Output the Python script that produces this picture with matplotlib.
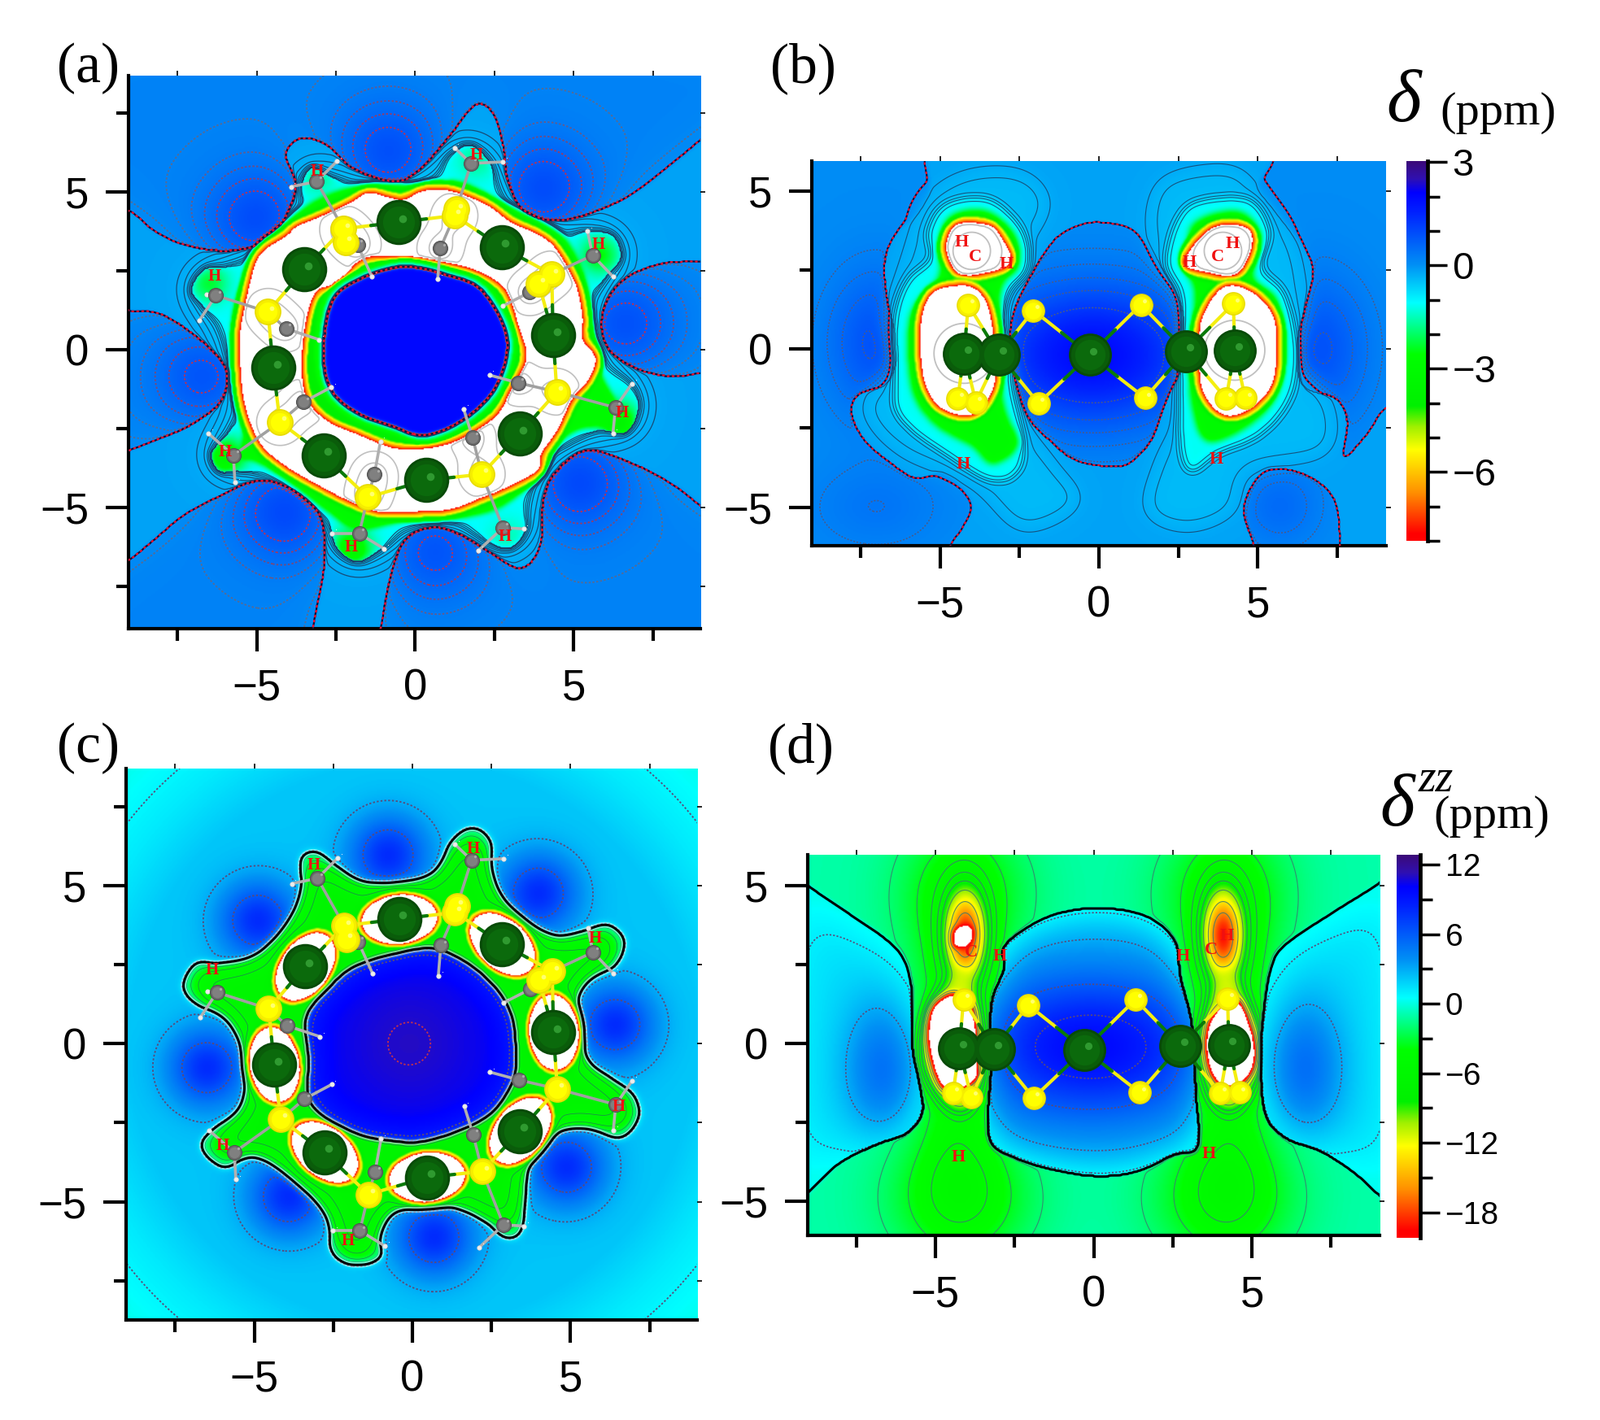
"""Chemical shielding maps: four contour panels with the molecule drawn on top."""
import matplotlib
matplotlib.use("Agg")
import matplotlib.pyplot as plt
import numpy as np
from matplotlib.colors import LinearSegmentedColormap
from matplotlib.path import Path

plt.rcParams["font.family"] = ["Liberation Sans", "DejaVu Sans"]
plt.rcParams["contour.negative_linestyle"] = "solid"
SERIF = "Liberation Serif"

W, H = 1967, 1746
N = 540
gx = np.linspace(-9.9, 9.9, N)
DX = gx[1] - gx[0]
X, Y = np.meshgrid(gx, gx)

# colour scale: (fraction, colour)
CMAP_STOPS = [(0.0, "#ff0000"), (0.018, "#ff0000"), (0.127, "#ff9000"), (0.24, "#ffff00"),
              (0.30, "#a0f000"), (0.355, "#00f000"), (0.491, "#00ff00"), (0.559, "#00ff80"),
              (0.627, "#00ffff"), (0.727, "#0090f5"), (0.868, "#0020ff"), (0.918, "#0000ff"),
              (0.955, "#3010b0"), (1.0, "#3c0a78")]
cmap = LinearSegmentedColormap.from_list("shift", CMAP_STOPS, N=512)
cmap.set_under("white")

# --- ring molecule (panels a, c), atoms in ring order ---------------------------------
ring_green = [(-0.53, 4.04), (2.73, 3.25), (4.35, 0.46), (3.29, -2.66),
              (0.35, -4.13), (-2.89, -3.34), (-4.48, -0.57), (-3.5, 2.54)]
ring_yellow = [(-2.27, 3.83), (1.24, 4.25), (4.31, 2.39), (4.47, -1.33),
               (2.1, -3.94), (-1.5, -4.67), (-4.27, -2.29), (-4.65, 1.2)]
ring_yellow_extra = [(3.9, 2.1), (-2.2, 3.4), (1.3, 4.45)]
ring_c_out = [(-3.11, 5.33), (1.76, 5.9), (5.6, 2.99), (6.32, -1.83),
              (2.77, -5.63), (-1.77, -5.82), (-5.74, -3.34), (-6.29, 1.72)]
ring_c_in = [(-1.82, 3.32), (0.79, 3.21), (3.61, 1.82), (3.26, -1.05),
             (1.81, -2.77), (-1.29, -3.95), (-3.52, -1.65), (-4.08, 0.67)]
ring_h_out = [[(-2.47, 5.97), (-3.92, 5.16)], [(1.24, 6.4), (2.77, 5.95)],
              [(5.44, 3.75), (6.24, 2.32)], [(6.84, -1.07), (6.24, -2.65)],
              [(3.42, -5.67), (2.0, -6.35)], [(-2.63, -5.82), (-0.98, -6.3)],
              [(-6.53, -2.65), (-5.69, -4.2)], [(-6.58, 1.75), (-6.82, 0.92)]]
ring_h_in = [(-1.37, 2.32), (0.71, 2.25), (2.77, 1.39), (2.34, -0.8),
             (1.53, -1.88), (-1.1, -2.91), (-2.66, -1.19), (-3.03, 0.32)]
ring_labels = [(-3.11, 5.64), (1.92, 6.16), (5.79, 3.32), (6.53, -2.0),
               (2.82, -5.92), (-2.03, -6.25), (-6.0, -3.24), (-6.34, 2.32)]
C_SHIFT = (0.11, -0.1)

# --- side-on molecule (panels b, d) ---------------------------------------------------
side_green = [(-4.24, -0.14), (-3.15, -0.17), (-0.29, -0.19), (2.74, -0.07), (4.27, -0.04)]
side_yellow = [(-4.11, 1.4), (-2.06, 1.22), (1.32, 1.4), (4.23, 1.43), (-4.44, -1.57),
               (-3.87, -1.69), (-1.9, -1.72), (1.45, -1.55), (4.0, -1.57), (4.6, -1.55)]
side_bonds = [(1, 1), (2, 1), (2, 2), (3, 2), (3, 7), (2, 7), (2, 6), (1, 6), (0, 0), (1, 0),
              (0, 4), (1, 5), (0, 5), (3, 3), (4, 3), (4, 8), (4, 9), (3, 8)]
b_labels = [("H", -4.32, 3.36), ("C", -3.89, 2.9), ("H", -2.92, 2.68), ("H", -4.27, -3.65),
            ("H", 4.19, 3.33), ("C", 3.74, 2.9), ("H", 2.85, 2.72), ("H", 3.68, -3.5)]
d_labels = [("H", -2.95, 2.76), ("H", 2.82, 2.76), ("H", -4.27, -3.61), ("H", 3.63, -3.49),
            ("C", 3.71, 2.97), ("H", 4.21, 3.41), ("C", -3.87, 2.9)]

# --- panel a contours -----------------------------------------------------------------
a_zero_top = [(-8.95, 4.33), (-8.27, 3.75), (-7.31, 3.32), (-5.85, 3.14), (-4.56, 3.54), (-3.92, 4.61),
              (-3.79, 5.33), (-4.08, 6.19), (-3.6, 6.69), (-2.79, 6.48), (-1.98, 5.76), (-0.69, 5.33),
              (0.11, 5.69), (1.08, 6.76), (1.89, 7.74), (2.45, 7.48), (2.77, 6.48), (2.94, 5.33),
              (3.5, 4.33), (4.63, 4.11), (5.92, 4.47), (7.05, 5.04), (8.34, 6.05), (9.02, 6.62),
              (9.7, 7.2), (9.8, 9.7), (-9.8, 9.7), (-9.8, 4.9)]
a_zero_right = [(9.8, 2.82), (9.02, 2.82), (7.85, 2.75), (6.73, 2.32), (6.08, 1.6), (5.89, 0.74),
                (6.16, -0.04), (7.05, -0.62), (8.18, -0.86), (9.02, -0.76), (9.8, -0.76)]
a_zero_br = [(9.02, -4.91), (8.18, -4.27), (6.89, -3.62), (5.44, -3.19), (4.47, -3.84), (4.06, -4.7),
             (3.98, -5.99), (3.66, -6.7), (3.18, -6.89), (2.37, -6.42), (1.4, -5.85), (0.6, -5.63),
             (-0.21, -5.92), (-0.69, -6.85), (-1.1, -8.78), (-1.2, -9.8), (9.8, -9.8), (9.8, -5.4)]
a_zero_bl = [(-3.19, -8.78), (-2.87, -6.85), (-2.95, -5.42), (-3.44, -4.7), (-4.4, -4.2), (-5.21, -4.2),
             (-6.18, -4.63), (-7.31, -5.2), (-8.27, -5.99), (-8.95, -6.56), (-9.8, -7.2), (-9.8, -9.8),
             (-3.3, -9.8)]
a_zero_left = [(-9.8, 1.25), (-8.95, 1.25), (-8.11, 1.17), (-7.15, 0.6), (-6.26, -0.19), (-5.94, -0.83),
               (-6.18, -1.69), (-7.15, -2.41), (-8.11, -2.84), (-8.95, -3.19), (-9.8, -3.4)]
a_cores = [(-4.97, 4.11, 0.8), (-0.85, 6.19, 0.75), (3.98, 5.04, 0.8), (6.48, 0.82, 0.75),
           (5.11, -4.13, 0.85), (0.6, -6.27, 0.7), (-4.08, -5.06, 0.85), (-6.58, -0.83, 0.7)]
a_patches = [(6.4, -2.3, -2.5), (-6.0, -3.4, -2.2), (-2.0, -6.3, -2.2), (-6.5, 2.1, -1.2),
             (5.8, 3.0, -1.5), (1.9, 6.0, -0.6), (-3.1, 5.5, -0.6), (2.9, -5.9, -0.4)]
a_halo = [(-7.06, 1.89), (-6.66, 2.54), (-6.02, 2.61), (-5.21, 2.89), (-4.4, 3.61), (-3.6, 4.33),
          (-3.6, 5.19), (-3.27, 5.76), (-2.63, 5.47), (-1.82, 5.19), (-0.53, 5.04), (0.6, 5.4),
          (1.08, 6.12), (1.73, 6.48), (2.37, 5.9), (2.61, 5.04), (3.18, 4.18), (4.47, 3.61),
          (5.44, 3.75), (6.24, 3.61), (6.48, 2.89), (5.92, 2.18), (5.44, 1.32), (5.76, 0.17),
          (6.08, -0.54), (6.81, -1.12), (7.05, -1.83), (6.65, -2.62), (5.76, -2.55), (4.79, -2.98),
          (3.98, -3.55), (3.5, -4.84), (3.5, -5.7), (3.02, -6.27), (2.37, -6.13), (1.4, -5.49),
          (0.6, -5.42), (-0.37, -5.7), (-1.02, -6.27), (-1.82, -6.7), (-2.47, -6.27), (-2.79, -5.42),
          (-3.6, -4.56), (-4.73, -3.98), (-5.53, -3.84), (-6.18, -3.84), (-6.42, -3.27), (-5.85, -2.55),
          (-5.53, -1.69), (-5.85, -0.4), (-6.18, 0.74), (-6.66, 1.32)]
a_green = [(-5.69, 1.46), (-4.89, 3.04), (-3.76, 4.33), (-2.47, 5.04), (-1.02, 5.26), (0.27, 5.19),
           (1.4, 5.33), (2.85, 4.61), (4.47, 3.75), (5.11, 2.89), (5.44, 1.89), (5.6, 0.6),
           (5.76, -0.54), (6.4, -1.83), (6.24, -2.34), (5.11, -2.55), (4.15, -3.27), (3.74, -4.13),
           (2.69, -4.99), (1.4, -5.34), (-0.21, -5.42), (-1.82, -5.7), (-2.79, -5.13), (-4.08, -4.13),
           (-5.05, -3.55), (-5.53, -3.41), (-5.45, -2.69), (-5.53, -1.55), (-5.77, -0.11)]
a_white_out = [(-3.76, 3.9), (-3.11, 4.18), (-2.15, 4.61), (-1.5, 4.97), (-0.85, 4.83), (-0.37, 4.76),
               (0.27, 5.04), (1.08, 5.04), (2.21, 4.61), (3.02, 4.04), (3.82, 3.68), (4.39, 3.25),
               (4.87, 2.46), (5.11, 1.89), (5.27, 1.03), (5.27, 0.32), (5.68, -0.26), (5.44, -0.97),
               (4.95, -1.55), (4.47, -2.55), (3.98, -3.27), (3.82, -3.84), (2.77, -4.41), (2.05, -4.7),
               (1.08, -5.06), (-0.21, -5.13), (-1.18, -5.13), (-2.15, -4.77), (-3.11, -4.27), (-4.08, -3.7),
               (-4.89, -2.98), (-5.37, -1.83), (-5.53, -0.54), (-5.53, 0.6), (-5.21, 2.18), (-4.89, 3.04),
               (-4.08, 3.61)]
a_white_in = [(-3.11, 1.89), (-2.47, 2.11), (-1.66, 2.89), (-0.37, 2.97), (1.08, 2.75), (2.05, 2.46),
              (2.85, 1.89), (3.26, 0.74), (3.5, -0.26), (3.02, -1.26), (2.53, -2.12), (1.4, -2.84),
              (0.44, -3.12), (-0.69, -3.12), (-1.82, -2.69), (-2.79, -2.26), (-3.44, -1.55), (-3.6, -0.4),
              (-3.44, 1.03)]
a_disc = [(-2.63, 1.46), (-1.82, 2.18), (-0.37, 2.61), (1.08, 2.32), (2.05, 1.89), (2.77, 0.74),
          (2.85, -0.26), (2.37, -1.4), (1.4, -2.26), (0.27, -2.69), (-0.69, -2.41), (-1.82, -1.98),
          (-2.63, -1.26), (-2.87, -0.11)]

# --- panel b contours -----------------------------------------------------------------
b_zero_left = [(-5.45, 6.7), (-5.45, 5.94), (-5.32, 5.15), (-5.61, 4.43), (-6.42, 3.58), (-6.74, 2.72),
               (-6.66, 1.57), (-6.34, 0.14), (-6.42, -0.57), (-6.74, -1.14), (-7.55, -1.43), (-7.79, -2.0),
               (-7.39, -2.86), (-6.58, -3.58), (-5.77, -4.08), (-4.97, -3.93), (-4.32, -4.36), (-4.0, -5.01),
               (-4.32, -5.72), (-4.65, -6.22), (-4.7, -7.0), (-9.8, -7.0), (-9.8, 6.7)]
b_zero_right = [(5.44, 6.7), (5.44, 5.94), (5.03, 5.15), (5.52, 4.43), (6.4, 3.29), (6.73, 2.43),
                (6.48, 1.29), (6.24, 0.14), (6.4, -1.14), (7.45, -1.57), (7.81, -2.29), (7.69, -3.43),
                (8.42, -2.72), (9.03, -1.86), (9.8, -1.86), (9.8, 6.7)]
b_zero_low = [(4.87, -6.22), (4.55, -5.01), (5.11, -3.93), (5.84, -3.79), (6.81, -4.15), (7.45, -4.86),
              (7.61, -6.22), (7.61, -7.0), (4.87, -7.0)]
b_zero_mid = [(0.19, 4.01), (1.16, 3.72), (1.97, 2.58), (2.61, 1.29), (2.69, 0.14), (2.61, -0.57),
              (2.13, -1.57), (1.65, -2.86), (1.0, -3.58), (0.35, -3.72), (-0.77, -3.5), (-1.58, -2.86),
              (-2.23, -2.15), (-2.63, -1.0), (-2.79, -0.14), (-2.71, 1.0), (-2.23, 2.15), (-1.42, 3.43),
              (-0.61, 3.93)]
b_white = [[(-4.81, 3.22), (-4.48, 3.93), (-3.52, 3.93), (-3.11, 3.58), (-2.79, 2.72), (-3.84, 2.36), (-4.48, 2.43)],
           [(-5.61, 0.72), (-5.29, 1.72), (-4.48, 2.0), (-3.84, 1.86), (-3.44, 1.14), (-3.27, -0.43),
            (-3.35, -1.29), (-3.84, -2.0), (-4.48, -2.07), (-5.13, -1.72), (-5.53, -0.86)],
           [(2.69, 2.72), (3.26, 3.58), (3.9, 3.93), (4.71, 3.79), (4.79, 3.15), (4.31, 2.36), (3.42, 2.43)],
           [(3.26, 1.0), (3.9, 1.93), (4.71, 1.86), (5.44, 1.14), (5.6, 0.14), (5.44, -1.14),
            (4.71, -1.93), (3.9, -2.07), (3.26, -1.29), (3.18, 0.0)]]
b_green = [[(-3.11, 1.72), (-3.03, -1.57), (-2.55, -3.0), (-3.35, -3.65), (-4.0, -3.08), (-5.13, -2.43),
            (-5.85, -1.43), (-6.02, 0.14), (-5.85, 1.29), (-5.05, 2.29), (-5.05, 3.29), (-4.65, 4.22),
            (-3.52, 4.36), (-2.63, 3.58), (-2.55, 2.58)],
           [(2.77, 3.0), (3.02, 4.01), (4.39, 4.36), (5.11, 3.58), (4.87, 2.29), (5.6, 1.57), (5.84, 0.14),
            (5.6, -1.43), (4.71, -2.43), (3.42, -2.93), (2.94, -1.86), (2.85, -0.29), (3.02, 1.72), (2.69, 2.58)]]
b_cyan = [[(-6.42, 1.0), (-6.02, 2.15), (-5.29, 2.86), (-5.37, 3.72), (-4.81, 4.58), (-3.44, 4.72),
           (-2.39, 3.72), (-2.23, 2.58), (-2.79, 1.86), (-3.03, 1.0), (-2.79, -0.43), (-2.71, -1.29),
           (-2.39, -2.86), (-2.55, -3.86), (-3.35, -4.15), (-4.65, -3.43), (-6.26, -2.15), (-6.42, -0.72)],
          [(2.13, 2.72), (2.45, 4.01), (3.1, 4.65), (4.71, 4.72), (5.35, 3.72), (5.11, 2.58), (5.84, 1.72),
           (6.24, 0.0), (6.0, -1.57), (5.03, -2.72), (3.74, -3.29), (2.94, -3.86), (2.61, -3.29),
           (2.53, -1.86), (2.53, -0.43), (2.61, 1.0), (2.53, 1.86)]]
b_pale = [[(-6.66, 1.0), (-6.1, 3.0), (-5.45, 4.72), (-4.16, 5.58), (-2.39, 5.58), (-1.58, 4.58),
           (-2.39, 3.0), (-3.03, 1.29), (-2.55, -1.86), (-1.42, -3.58), (-0.61, -4.86), (-2.39, -5.72),
           (-4.0, -4.29), (-6.26, -3.29), (-7.39, -1.86), (-6.5, -0.57)],
          [(1.56, 4.29), (2.13, 5.44), (4.23, 5.72), (5.19, 4.72), (6.16, 3.29), (6.48, 1.29), (6.24, -0.43),
           (7.29, -1.72), (7.13, -3.29), (4.71, -3.86), (4.23, -5.15), (2.77, -5.72), (1.48, -5.15),
           (1.81, -3.58), (2.53, -1.86), (2.61, 1.29), (1.81, 2.72)]]
b_cores = [(-0.2, -0.2, 1.9, 2.3, 1.5), (-7.0, 0.2, 0.8, 1.1, 1.6), (6.9, 0.0, 0.8, 1.1, 1.6),
           (5.7, -5.0, 0.45, 0.9, 0.9), (-7.0, -5.0, 0.3, 1.5, 1.0)]

# --- panel c contours -----------------------------------------------------------------
c_profile_r = [0, 7, 9, 10.5, 11.4, 13]
c_profile_v = [2.3, 2.3, 2.2, 1.2, 0.75, 0.0]
c_cores = [(-0.77, 5.97), (3.98, 4.76), (6.4, 0.6), (4.87, -3.91),
           (0.68, -6.13), (-3.92, -4.84), (-6.5, -0.76), (-4.89, 3.9)]
c_outer = [(-7.23, 1.82), (-6.82, 2.54), (-6.1, 2.54), (-4.97, 2.82), (-4.0, 3.83), (-3.52, 4.83),
           (-3.52, 5.83), (-3.03, 6.05), (-2.39, 5.62), (-1.58, 5.14), (-0.45, 5.14), (0.68, 5.4),
           (1.24, 6.4), (1.89, 6.81), (2.45, 6.4), (2.53, 5.4), (2.94, 4.54), (3.74, 3.83),
           (4.55, 3.4), (5.35, 3.54), (6.16, 3.75), (6.68, 3.25), (6.4, 2.46), (5.52, 1.96),
           (5.19, 1.1), (5.52, -0.47), (6.24, -1.05), (6.97, -1.62), (7.13, -2.34), (6.56, -2.98),
           (5.52, -2.69), (4.55, -2.84), (3.74, -3.77), (3.58, -4.91), (3.42, -5.92), (2.94, -6.13),
           (2.29, -5.63), (1.32, -5.2), (0.35, -5.2), (-0.61, -5.34), (-1.02, -6.06), (-1.02, -6.78),
           (-1.9, -6.99), (-2.55, -6.56), (-2.71, -5.49), (-3.68, -4.48), (-4.97, -3.55), (-5.94, -3.91),
           (-6.66, -3.27), (-6.26, -2.69), (-5.45, -2.05), (-5.29, -1.05), (-5.45, -0.04), (-5.94, 0.82),
           (-6.82, 1.25)]
c_inner = [(-3.35, 0.82), (-2.71, 1.68), (-1.9, 2.39), (-0.61, 2.82), (0.84, 2.97), (2.29, 2.11),
           (3.1, 0.96), (3.26, -0.47), (3.1, -1.33), (2.29, -2.34), (0.52, -3.05), (-0.77, -3.05),
           (-1.9, -2.77), (-3.19, -1.91), (-3.27, -0.47)]

# --- panel d contours -----------------------------------------------------------------
d_zero_left = [(-9.8, 5.7), (-9.03, 5.06), (-7.66, 4.12), (-6.53, 3.33), (-5.97, 2.69), (-5.73, 1.68),
               (-5.73, -0.04), (-5.48, -1.34), (-5.4, -2.2), (-5.89, -2.84), (-6.85, -3.2), (-7.98, -3.78),
               (-9.03, -4.78), (-9.8, -5.5)]
d_zero_right = [(9.8, 5.8), (9.02, 5.13), (7.66, 4.27), (6.05, 3.19), (5.56, 2.4), (5.32, 0.82),
                (5.24, -0.33), (5.4, -2.2), (6.05, -2.99), (7.18, -3.42), (8.15, -4.07), (9.02, -4.86),
                (9.8, -5.5)]
d_zero_mid = [(0.24, 4.31), (-1.21, 4.12), (-2.34, 3.55), (-2.9, 2.97), (-2.82, 2.4), (-3.23, 1.25),
              (-3.23, -0.62), (-3.34, -2.34), (-3.23, -3.2), (-2.5, -3.64), (-1.37, -3.99), (0.08, -4.21),
              (1.37, -4.07), (2.5, -3.56), (3.31, -3.28), (3.23, -1.62), (3.11, 0.53), (2.74, 2.11),
              (2.58, 3.26), (1.69, 4.05)]
d_white = [[(-5.27, -0.04), (-5.16, 1.11), (-4.44, 1.61), (-3.79, 1.11), (-3.63, -0.62), (-3.71, -1.19),
            (-4.44, -1.55), (-4.92, -1.26)],
           [(3.55, 0.53), (4.03, 1.25), (4.6, 1.39), (5.08, 0.24), (5.08, -0.76), (4.6, -1.34),
            (3.95, -1.34), (3.55, -0.62)],
           [(-4.35, 3.69), (-3.87, 3.69), (-3.9, 3.2), (-4.35, 3.05), (-4.5, 3.3)]]
d_yellow = [[(-5.48, -0.04), (-5.16, 1.25), (-4.6, 1.97), (-4.11, 2.4), (-3.63, 1.25), (-3.39, -0.33),
             (-3.63, -1.62), (-4.11, -2.2), (-4.76, -1.91), (-5.32, -1.05)],
            [(3.31, 0.24), (3.79, 1.82), (4.19, 2.4), (4.92, 1.25), (5.32, -0.04), (5.08, -1.34),
             (4.44, -2.13), (3.79, -1.91), (3.39, -0.91)]]
# (x, y, amplitude, width x, width y)
d_columns = [(-4.3, 0.0, -3.6, 1.0, 3.4), (4.3, 0.0, -3.6, 1.0, 3.4), (-4.2, -4.9, -3.6, 1.6, 1.4),
             (4.1, -4.9, -3.6, 1.6, 1.4), (-4.1, 4.8, -3.0, 1.5, 1.6), (4.1, 4.8, -3.0, 1.5, 1.6),
             (-4.05, 3.4, -14.0, 0.45, 1.0), (4.08, 3.4, -14.0, 0.45, 1.0)]
d_side_cores = [(-6.6, -0.8, 3.8, 0.9, 1.6), (6.6, -0.8, 3.8, 0.9, 1.6)]


def smooth_closed(pts, k=8):
    p = np.asarray(pts, float)
    n = len(p)
    t = np.linspace(0, 1, k, endpoint=False)[:, None]
    out = []
    for i in range(n):
        p0, p1, p2, p3 = p[i - 1], p[i], p[(i + 1) % n], p[(i + 2) % n]
        out.append(0.5 * (2 * p1 + (p2 - p0) * t + (2 * p0 - 5 * p1 + 4 * p2 - p3) * t ** 2
                          + (3 * p1 - p0 - 3 * p2 + p3) * t ** 3))
    return np.vstack(out)


def raster(pts, scale=1.0, smooth=True):
    p = smooth_closed(pts) if smooth else np.asarray(pts, float)
    p = p * scale
    x0, y0 = p.min(axis=0)
    x1, y1 = p.max(axis=0)
    sel = (X >= x0) & (X <= x1) & (Y >= y0) & (Y <= y1)
    mask = np.zeros_like(X)
    mask[sel] = Path(p).contains_points(np.column_stack([X[sel], Y[sel]]))
    return mask


def blur(a, s):
    pad = int(4 * s / DX) + 2
    b = np.pad(a, pad, mode="edge")
    fy = np.fft.fftfreq(b.shape[0])[:, None]
    fx = np.fft.rfftfreq(b.shape[1])[None, :]
    sp = s / DX
    out = np.fft.irfft2(np.fft.rfft2(b) * np.exp(-2 * (np.pi * sp) ** 2 * (fx ** 2 + fy ** 2)), s=b.shape)
    return out[pad:-pad, pad:-pad]


def dilate(mask, d):
    return (blur(mask, d) > 0.16).astype(float)


def erode(mask, d):
    return 1.0 - dilate(1.0 - mask, d)


def paint(F, mask, level, s, inside=False):
    m = blur(mask, s)
    if inside:
        m = np.clip(2 * m - 1, 0, 1)
    return F * (1 - m) + level * m


def bump(x0, y0, amp, sx, sy=None):
    sy = sx if sy is None else sy
    return amp * np.exp(-0.5 * ((X - x0) / sx) ** 2 - 0.5 * ((Y - y0) / sy) ** 2)


def deepen(F, atoms, limit, amp=14.0, s=0.42):
    deep = sum(bump(x, y, amp, s) for x, y in atoms)
    return F - deep * np.clip((limit - F) / 0.5, 0, 1)


def field_a():
    lobes = np.clip(sum(raster(p) for p in [a_zero_top, a_zero_right, a_zero_br, a_zero_bl, a_zero_left]), 0, 1)
    F = paint(np.full_like(X, -0.2), lobes, 0.05, 0.05)
    F += lobes * (sum(bump(x, y, a, 1.1) for x, y, a in a_cores) + 0.12 * np.clip(2 * blur(lobes, 0.7) - 1, 0, 1))
    halo = raster(a_halo)
    F += (1 - lobes) * -0.65 * blur(halo, 0.55)
    F = paint(F, halo, -1.1, 0.09)
    F += halo * sum(bump(x, y, a, 0.42) for x, y, a in a_patches)
    F = paint(F, raster(a_green), -3.0, 0.08)
    white = raster(a_white_out)
    F = paint(F, dilate(white, 0.3), -4.1, 0.05)
    F = paint(F, dilate(white, 0.16), -6.0, 0.04)
    F = paint(F, white, -10.0, 0.07)
    hole = raster(a_white_in)
    F = paint(F, hole, -6.0, 0.07)
    F = paint(F, erode(hole, 0.16), -4.0, 0.04)
    F = paint(F, raster(a_disc, 1.11), -2.6, 0.05)
    F = paint(F, raster(a_disc, 1.055), -1.1, 0.05)
    F = paint(F, raster(a_disc), 1.95, 0.05)
    return deepen(F, ring_yellow + ring_c_in, -8.8)


def field_b():
    F = np.full_like(X, -0.2)
    lobes = np.clip(sum(raster(p) for p in [b_zero_left, b_zero_right, b_zero_low, b_zero_mid]), 0, 1)
    F = paint(F, lobes, 0.05, 0.05)
    F += lobes * sum(bump(x, y, a, sx, sy) for x, y, a, sx, sy in b_cores)
    for p in b_pale:
        F = paint(F, raster(p), -0.42, 0.3)
    for p in b_cyan:
        F = paint(F, raster(p), -1.15, 0.14)
    for p in b_green:
        F = paint(F, raster(p), -3.0, 0.1)
    for p in b_white:
        w = raster(p)
        F = paint(F, dilate(w, 0.3), -4.3, 0.05)
        F = paint(F, dilate(w, 0.16), -6.0, 0.04)
        F = paint(F, w, -10.0, 0.07)
    return deepen(F, [side_green[0], side_green[4], (-4.0, 3.1), (3.9, 3.1)], -8.8, 12.0, 0.5)


def crescent(x, y, scale):
    # white lens around a green atom, long side along the ring
    th = np.arctan2(y, x)
    t = np.linspace(0, 2 * np.pi, 60, endpoint=False)
    rad, tan = 0.78 * scale * np.cos(t), 1.2 * scale * np.sin(t)
    pts = np.column_stack([x + rad * np.cos(th) - tan * np.sin(th), y + rad * np.sin(th) + tan * np.cos(th)])
    return raster(pts, smooth=False)


def field_c():
    F = np.interp(np.hypot(X, Y), c_profile_r, c_profile_v)
    F = F + sum(bump(x, y, 5.7, 0.85) for x, y in c_cores)
    outer = raster(c_outer)
    F = paint(F, outer, -3.0, 0.12)
    F = paint(F, outer, -7.0, 0.45, inside=True)
    for (x, y) in ring_green:
        x, y = x + C_SHIFT[0], y + C_SHIFT[1]
        for scale, level, s in [(1.22, -8.0, 0.1), (1.1, -15.0, 0.05), (1.0, -24.0, 0.04)]:
            F = paint(F, crescent(x, y, scale), level, s)
    inner = raster(c_inner)
    F = paint(F, inner, 8.6, 0.08)
    F = paint(F, inner, 10.2, 0.5, inside=True)
    return F + inner * bump(-0.1, 0.0, 0.8, 1.3)


def field_d():
    F = np.full_like(X, -1.0)
    F += sum(bump(x, y, a, sx, sy) for x, y, a, sx, sy in d_columns)
    for p in d_yellow:
        F = paint(F, raster(p), -11.5, 0.2)
    for p in d_white:
        F = paint(F, raster(p), -22.0, 0.09)
    for p in [d_zero_left, d_zero_right]:
        m = raster(p)
        F = paint(F, m, 0.3, 0.05)
        F = paint(F, m, 1.6, 1.0, inside=True)
        F += m * sum(bump(x, y, a, sx, sy) for x, y, a, sx, sy in d_side_cores)
    m = raster(d_zero_mid)
    F = paint(F, m, 0.4, 0.05)
    F = paint(F, m, 2.2, 0.6, inside=True)
    return F + m * bump(-0.1, -0.1, 7.5, 3.0, 1.7)


def px_axes(fig, left, top, right, bottom):
    return fig.add_axes([left / W, 1 - bottom / H, (right - left) / W, (bottom - top) / H])


def style_axes(ax, xlim, ylim):
    ax.set_xlim(xlim)
    ax.set_ylim(ylim)
    ax.set_xticks([-5, 0, 5], ["\u22125", "0", "5"])
    ax.set_yticks([-5, 0, 5], ["\u22125", "0", "5"])
    ax.set_xticks([-7.5, -2.5, 2.5, 7.5], minor=True)
    ax.set_yticks([t for t in [-7.5, -2.5, 2.5, 7.5] if ylim[0] < t < ylim[1]], minor=True)
    ax.tick_params(which="major", length=20, width=3, labelsize=38, pad=15, top=True, right=True)
    ax.tick_params(which="minor", length=11, width=3, top=True, right=True)
    for axis in (ax.xaxis, ax.yaxis):
        for tick in axis.get_major_ticks() + axis.get_minor_ticks():
            tick.tick2line.set_color("#d0d0d0")
            tick.tick2line.set_markersize(4)
            tick.tick2line.set_markeredgewidth(1.2)
    ax.spines["top"].set_visible(False)
    ax.spines["right"].set_visible(False)
    ax.spines["left"].set_linewidth(3)
    ax.spines["bottom"].set_linewidth(3)


def sphere(ax, pts, size, colors, z):
    xy = np.asarray(pts)
    for frac, col in zip([1.0, 0.8, 0.5], colors):
        ax.scatter(xy[:, 0], xy[:, 1], s=size * frac, color=col, linewidths=0, zorder=z, clip_on=False)
    ax.scatter(xy[:, 0] + 0.12, xy[:, 1] + 0.12, s=size * 0.03, color=colors[3], linewidths=0, zorder=z)


GREEN_SHADES = ["#084a08", "#0a5c0a", "#0b6a0c", "#2f9a30"]
YELLOW_SHADES = ["#e8dc00", "#f6ee00", "#ffff00", "#ffff70"]
GRAY_SHADES = ["#505050", "#6a6a6a", "#808080", "#aaaaaa"]


def bond(ax, p, q, color, lw=2.6, z=5):
    ax.plot([p[0], q[0]], [p[1], q[1]], color=color, lw=lw, zorder=z, solid_capstyle="round")


def half_bond(ax, g, y, lw=3.0):
    mid = ((g[0] + y[0]) / 2, (g[1] + y[1]) / 2)
    bond(ax, y, mid, "#f4ee10", lw)
    bond(ax, g, mid, "#0a7a0a", lw)


def draw_ring(ax, shift=(0.0, 0.0), labels=ring_labels):
    sh = np.array(shift)
    green = np.array(ring_green) + sh
    yellow = np.array(ring_yellow) + sh
    extra = np.array(ring_yellow_extra) + sh
    c_out = np.array(ring_c_out) + sh
    c_in = np.array(ring_c_in) + sh
    h_out = np.array(ring_h_out) + sh
    h_in = np.array(ring_h_in) + sh
    n = len(green)
    for i in range(n):
        half_bond(ax, green[i], yellow[i])
        half_bond(ax, green[i], yellow[(i + 1) % n])
        bond(ax, yellow[i], c_out[i], "#a0a0a0")
        bond(ax, yellow[i], c_in[i], "#a0a0a0")
        bond(ax, c_in[i], h_in[i], "#b0b0b0")
        for h in h_out[i]:
            bond(ax, c_out[i], h, "#b0b0b0")
    half_bond(ax, green[2], extra[0])
    sphere(ax, np.vstack([h_out.reshape(-1, 2), h_in]), 20, ["#cfcfcf", "#dddddd", "#eeeeee", "#ffffff"], 6)
    sphere(ax, np.vstack([c_out, c_in]), 190, GRAY_SHADES, 7)
    sphere(ax, np.vstack([yellow, extra]), 560, YELLOW_SHADES, 8)
    sphere(ax, green, 1600, GREEN_SHADES, 9)
    for x, y in labels:
        ax.text(x, y, "H", color="#f01010", fontsize=15, fontweight="bold", family=SERIF,
                ha="center", va="center", zorder=10)


def draw_side(ax, labels):
    for g, y in side_bonds:
        half_bond(ax, side_green[g], side_yellow[y])
    sphere(ax, side_yellow, 430, YELLOW_SHADES, 8)
    sphere(ax, side_green, 1450, GREEN_SHADES, 9)
    for s, x, y in labels:
        ax.text(x, y, s, color="#f01010", fontsize=16, fontweight="bold", family=SERIF,
                ha="center", va="center", zorder=10)


def draw_field(ax, F, vmin, vmax):
    ax.imshow(F, extent=[gx[0], gx[-1], gx[0], gx[-1]], origin="lower", cmap=cmap, vmin=vmin, vmax=vmax,
              aspect="auto", interpolation="bilinear", zorder=1)


DOTS = (0, (1.3, 1.3))


def colorbar(fig, rect, vmin, vmax, majors, minors, fontsize, pad):
    cax = px_axes(fig, *rect)
    vals = np.linspace(vmin, vmax, 512)[:, None]
    cax.imshow(vals, extent=[0, 1, vmin, vmax], origin="lower", aspect="auto", cmap=cmap, vmin=vmin, vmax=vmax)
    cax.set_xticks([])
    cax.yaxis.tick_right()
    cax.set_yticks(majors, [str(m).replace("-", "\u2212") for m in majors])
    cax.set_yticks(minors, minor=True)
    cax.tick_params(which="major", length=17, width=2.5, labelsize=fontsize, pad=pad)
    cax.tick_params(which="minor", length=11, width=2.5)
    for s in ("left", "top", "bottom"):
        cax.spines[s].set_visible(False)
    cax.spines["right"].set_linewidth(3.4)


fig = plt.figure(figsize=(W / 100, H / 100), dpi=100, facecolor="white")

# (a)
ax = px_axes(fig, 158, 93, 861, 773)
Fa = field_a()
draw_field(ax, Fa, -8, 3)
ax.contour(gx, gx, Fa, levels=[-1.0, -0.85, -0.7, -0.58, -0.48, -0.4, -0.33, -0.27], colors="#1c3a60",
           linewidths=0.9, alpha=0.85, zorder=2)
ax.contour(gx, gx, Fa, levels=[0.1, 0.18, 0.28, 0.4, 0.55, 0.72], linewidths=1.3, linestyles=[DOTS], zorder=2,
           colors=["#5a6a90", "#5a6a90", "#6a5a88", "#7a4a78", "#a03a60", "#c03050"])
ax.contour(gx, gx, Fa, levels=[-20, -13], colors="#c0c0c0", linewidths=1.2, zorder=2)
ax.contour(gx, gx, Fa, levels=[0], colors="#101038", linewidths=1.6, zorder=3)
ax.contour(gx, gx, Fa, levels=[0], colors="#f01030", linewidths=1.7, linestyles=[DOTS], zorder=3)
draw_ring(ax)
style_axes(ax, (-9.05, 9.0), (-8.83, 8.68))

# (b)
ax = px_axes(fig, 998, 198, 1704, 671)
Fb = field_b()
draw_field(ax, Fb, -8, 3)
ax.contour(gx, gx, Fb, levels=[-1.0, -0.8, -0.65, -0.5, -0.38, -0.28], colors="#1c3a60",
           linewidths=0.8, alpha=0.8, zorder=2)
ax.contour(gx, gx, Fb, levels=[0.2, 0.35, 0.55, 0.8, 1.2], colors="#4a5a8a", linewidths=1.1, linestyles=[DOTS], zorder=2)
ax.contour(gx, gx, Fb, levels=[-16, -12], colors="#c0c0c0", linewidths=1.3, zorder=2)
ax.contour(gx, gx, Fb, levels=[0], colors="#101038", linewidths=1.5, zorder=3)
ax.contour(gx, gx, Fb, levels=[0], colors="#f01030", linewidths=1.6, linestyles=[DOTS], zorder=3)
draw_side(ax, b_labels)
style_axes(ax, (-9.03, 9.03), (-6.22, 5.94))

# (c)
ax = px_axes(fig, 155, 945, 857, 1623)
Fc = field_c()
draw_field(ax, Fc, -20.2, 12.85)
ax.contour(gx, gx, Fc, levels=[-6, -4.5, -3, -1.5], colors="#1f7f55", linewidths=0.5, zorder=2)
ax.contour(gx, gx, Fc, levels=[0.75, 3, 6, 9], colors="#5a4a7a", linewidths=1.3, linestyles=[DOTS], zorder=2)
ax.contour(gx, gx, Fc, levels=[10.9], colors="#c03050", linewidths=1.3, linestyles=[DOTS], zorder=2)
ax.contour(gx, gx, Fc, levels=[0], colors="white", linewidths=5, alpha=0.45, zorder=2)
ax.contour(gx, gx, Fc, levels=[0], colors="black", linewidths=2.2, zorder=3)
draw_ring(ax, C_SHIFT, ring_labels[:4] + ring_labels[5:])
style_axes(ax, (-9.05, 9.0), (-8.74, 8.7))

# (d)
ax = px_axes(fig, 993, 1051, 1696, 1519)
Fd = field_d()
draw_field(ax, Fd, -20.2, 12.85)
ax.contour(gx, gx, Fd, levels=[-16, -13, -10, -8, -6.5, -5, -3.5, -2], colors="#3a7a70",
           linewidths=0.8, alpha=0.85, zorder=2)
ax.contour(gx, gx, Fd, levels=[1.0, 3, 6, 8.5], colors="#5a4a7a", linewidths=1.2, linestyles=[DOTS], zorder=2)
ax.contour(gx, gx, Fd, levels=[0], colors="black", linewidths=2.2, zorder=3)
draw_side(ax, d_labels)
style_axes(ax, (-9.03, 9.03), (-6.08, 5.99))

# colour bars
colorbar(fig, (1729, 198, 1755, 665), -8, 3.03, [3, 0, -3, -6], [2, 1, -1, -2, -4, -5, -7, -8], 34, 5)
colorbar(fig, (1717, 1051, 1746, 1522), -20.2, 12.85, [12, 6, 0, -6, -12, -18], [9, 3, -3, -9, -15], 28, 5)


def label(x, y, s, **kw):
    fig.text(x / W, 1 - y / H, s, ha="center", va="center", **kw)


for (x, y), s in zip([(108, 84), (987, 84), (108, 920), (984, 920)], ["(a)", "(b)", "(c)", "(d)"]):
    label(x, y, s, fontsize=50, family=SERIF)
label(1726, 127, "\u03b4", fontsize=66, family=SERIF, style="italic")
label(1842, 139, "(ppm)", fontsize=42, family=SERIF)
label(1718, 993, "\u03b4", fontsize=66, family=SERIF, style="italic")
label(1765, 959, "zz", fontsize=40, family=SERIF, style="italic")
label(1834, 1004, "(ppm)", fontsize=42, family=SERIF)

fig.savefig("out.png", dpi=100, facecolor="white")
